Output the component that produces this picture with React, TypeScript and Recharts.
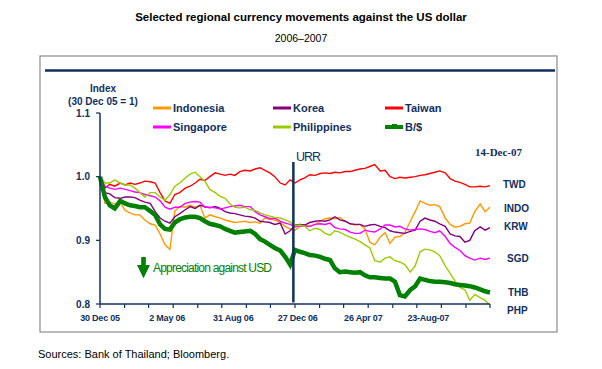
import React from "react";
import { LineChart, Line, XAxis, YAxis, Legend, ReferenceLine } from "recharts";

// days since 30 Dec 05
const days = [
  0, 9, 18, 27, 37, 46, 55, 64, 73, 82,
  92, 101, 110, 119, 128, 137, 146, 156, 165, 174,
  183, 192, 201, 211, 220, 229, 238, 247, 256, 265,
  275, 284, 293, 302, 311, 320, 330, 339, 348, 357,
  366, 375, 384, 394, 403, 412, 421, 430, 439, 449,
  458, 467, 476, 485, 494, 503, 513, 522, 531, 540,
  549, 558, 568, 577, 586, 595, 604, 613, 622, 632,
  641, 650, 659, 668, 677, 686, 696, 705, 714,
];

const taiwan = [
  1.0, 0.982, 0.988, 0.985, 0.99, 0.987, 0.99, 0.988, 0.99, 0.993,
  0.992, 0.99, 0.975, 0.962, 0.958, 0.972, 0.975, 0.982, 0.985, 0.99,
  0.996, 0.994, 1.0, 1.006, 1.004, 1.002, 1.004, 1.002, 1.008, 1.01,
  1.009, 1.012, 1.014, 1.01, 1.006, 1.0, 0.99, 0.987, 0.995, 0.99,
  0.995, 0.998, 1.003, 1.002, 1.005, 1.006, 1.005, 1.007, 1.006, 1.008,
  1.008, 1.01, 1.012, 1.013, 1.016, 1.019, 1.009, 1.01, 1.0, 0.997,
  0.999, 0.998, 0.999, 1.0, 1.002, 1.003, 1.005, 1.007, 1.009, 1.006,
  0.997, 0.993, 0.991, 0.988, 0.984, 0.984, 0.985, 0.984, 0.986,
];

const indonesia = [
  1.0, 0.958, 0.96, 0.957, 0.96, 0.947, 0.943, 0.94, 0.94, 0.932,
  0.926, 0.924, 0.91, 0.893, 0.886, 0.946, 0.953, 0.952, 0.955, 0.952,
  0.955, 0.935, 0.94, 0.937, 0.935, 0.932, 0.93, 0.928, 0.929, 0.93,
  0.928, 0.929, 0.927, 0.935, 0.933, 0.932, 0.928, 0.922, 0.918, 0.916,
  0.922, 0.924, 0.922, 0.925, 0.93, 0.934, 0.935, 0.934, 0.936, 0.93,
  0.926, 0.924, 0.925, 0.918, 0.897, 0.893, 0.905, 0.912, 0.895, 0.905,
  0.906, 0.912, 0.93, 0.945, 0.962, 0.958, 0.955, 0.956, 0.953, 0.935,
  0.925, 0.921, 0.922, 0.926, 0.927, 0.945, 0.957, 0.945, 0.952,
];

const korea = [
  1.0, 0.975, 0.973, 0.967, 0.966, 0.968, 0.968, 0.967, 0.963, 0.96,
  0.958, 0.945, 0.935, 0.93, 0.927, 0.937, 0.942, 0.948, 0.953, 0.95,
  0.955, 0.953, 0.951, 0.953, 0.95, 0.945, 0.943, 0.942, 0.94, 0.938,
  0.937, 0.935, 0.93, 0.929, 0.928, 0.925, 0.927, 0.91, 0.915, 0.924,
  0.925, 0.924, 0.928, 0.93, 0.931, 0.93, 0.932, 0.937, 0.932, 0.93,
  0.926, 0.925, 0.925, 0.922, 0.924, 0.925, 0.922, 0.92, 0.915, 0.913,
  0.912, 0.911, 0.914, 0.916, 0.93, 0.935, 0.932, 0.93, 0.926, 0.922,
  0.91, 0.907, 0.906, 0.897, 0.9, 0.915, 0.921, 0.916, 0.92,
];

const singapore = [
  1.0, 0.985, 0.982, 0.98, 0.982, 0.98, 0.978, 0.976, 0.975, 0.972,
  0.97, 0.968, 0.962, 0.952, 0.949, 0.952, 0.952, 0.958, 0.96, 0.961,
  0.96, 0.952, 0.952, 0.951, 0.949, 0.951, 0.953, 0.954, 0.955, 0.953,
  0.953, 0.945, 0.94, 0.937, 0.934, 0.935, 0.93, 0.927, 0.925, 0.921,
  0.923, 0.922, 0.922, 0.925, 0.926, 0.925, 0.927, 0.92, 0.918, 0.917,
  0.913, 0.911, 0.911, 0.916, 0.914, 0.913, 0.918, 0.924, 0.924, 0.921,
  0.922, 0.918, 0.916, 0.917, 0.918, 0.917, 0.914, 0.912, 0.915, 0.906,
  0.895, 0.889, 0.884, 0.876, 0.872, 0.869, 0.872, 0.87, 0.872,
];

const philippines = [
  1.0, 0.99, 0.99, 0.995, 0.99, 0.987, 0.987, 0.982, 0.975, 0.968,
  0.975, 0.975, 0.968, 0.963, 0.972, 0.985, 0.99, 0.998, 1.004, 1.007,
  1.0, 0.993, 0.98, 0.975, 0.969, 0.966, 0.957, 0.952, 0.951, 0.952,
  0.948, 0.947, 0.943, 0.94, 0.938, 0.936, 0.935, 0.932, 0.929, 0.923,
  0.924, 0.922, 0.915, 0.919, 0.917, 0.911, 0.908, 0.915, 0.913, 0.908,
  0.905, 0.902, 0.898, 0.893, 0.888, 0.868, 0.866, 0.872, 0.874, 0.868,
  0.866, 0.862, 0.85, 0.86, 0.882, 0.886, 0.885, 0.882, 0.876, 0.86,
  0.848, 0.836, 0.826, 0.822, 0.806, 0.815, 0.81, 0.806, 0.797,
];

const baht = [
  1.0, 0.968, 0.955, 0.95, 0.962, 0.958, 0.955, 0.954, 0.952, 0.952,
  0.946, 0.94, 0.925, 0.918, 0.917, 0.928, 0.933, 0.936, 0.937, 0.937,
  0.935, 0.93, 0.926, 0.924, 0.922, 0.918, 0.915, 0.912, 0.913, 0.914,
  0.915, 0.91, 0.902, 0.898, 0.893, 0.888, 0.884, 0.874, 0.862, 0.885,
  0.882, 0.88, 0.877, 0.876, 0.874, 0.871, 0.869, 0.856, 0.85, 0.851,
  0.85, 0.849, 0.85, 0.845, 0.842, 0.842, 0.841, 0.84, 0.84, 0.835,
  0.814, 0.812, 0.822, 0.828, 0.84, 0.838, 0.836, 0.835, 0.835, 0.834,
  0.833, 0.831, 0.83, 0.829, 0.828, 0.826, 0.823, 0.82, 0.818,
];

const labelDays = [0, 123, 244, 362, 482, 601];
const labelText = ["30 Dec 05", "2 May 06", "31 Aug 06", "27 Dec 06", "26 Apr 07", "23-Aug-07"];
const minorDays = [0, 45, 89, 134, 179, 223, 268, 312, 357, 402, 446, 491, 536, 580, 625, 670, 714];
const yTicks = [0.8, 0.9, 1.0, 1.1];
const urrDay = 354;

const legendOrder = ["Indonesia", "Korea", "Taiwan", "Singapore", "Philippines", "B/$"];

const data = days.map((d, i) => ({
  day: d,
  Indonesia: indonesia[i],
  Korea: korea[i],
  Taiwan: taiwan[i],
  Singapore: singapore[i],
  Philippines: philippines[i],
  "B/$": baht[i],
}));

const NAVY = "#10305f";
const SANS = "'Liberation Sans', Arial, sans-serif";

const XTick = (props: any) => {
  const { x, y, payload } = props;
  const v = payload.value;
  const li = labelDays.indexOf(v);
  return (
    <g>
      {minorDays.includes(v) && <line x1={x} x2={x} y1={y} y2={y + 4} stroke={NAVY} strokeWidth={1.2} />}
      {li >= 0 && (
        <text x={x} y={y + 17} textAnchor="middle" fontFamily={SANS} fontWeight="bold" fontSize={9} letterSpacing={-0.2} fill={NAVY}>
          {labelText[li]}
        </text>
      )}
    </g>
  );
};

const LegendGrid = (props: any) => {
  const payload: any[] = props.payload || [];
  const items = legendOrder.map((n) => payload.find((p) => p.value === n)).filter(Boolean);
  return (
    <div style={{ display: "grid", gridTemplateColumns: "120px 112px 112px" }}>
      {items.map((p: any) => (
        <div key={p.value} style={{ height: 18.5, display: "flex", alignItems: "center" }}>
          <svg width={20} height={8}>
            <line x1={0} x2={18} y1={4} y2={4} stroke={p.color} strokeWidth={p.value === "B/$" ? 4 : 3} />
            {p.value === "B/$" && <rect x={7} y={1} width={5} height={5} fill={p.color} />}
          </svg>
          <span style={{ fontFamily: SANS, fontWeight: "bold", fontSize: 11, color: NAVY }}>{p.value}</span>
        </div>
      ))}
    </div>
  );
};

const rightLabels = [
  { t: "TWD", x: 503, y: 184 },
  { t: "INDO", x: 504, y: 208 },
  { t: "KRW", x: 504, y: 226 },
  { t: "SGD", x: 507, y: 258 },
  { t: "THB", x: 508, y: 292 },
  { t: "PHP", x: 507, y: 310 },
];

export default function App() {
  return (
    <div style={{ position: "absolute", left: 0, top: 0, width: 602, height: 369, background: "#fff" }}>
      <LineChart width={602} height={369} data={data} margin={{ top: 113, right: 112, bottom: 35, left: 60 }}>
        <XAxis
          dataKey="day"
          type="number"
          domain={[0, 714]}
          ticks={[...new Set([...minorDays, ...labelDays])].sort((a, b) => a - b)}
          interval={0}
          tickLine={false}
          tickSize={0}
          tickMargin={0}
          tick={<XTick />}
          axisLine={{ stroke: NAVY, strokeWidth: 1.5 }}
          height={30}
        />
        <YAxis
          type="number"
          domain={[0.8, 1.1]}
          allowDataOverflow
          ticks={yTicks}
          interval={0}
          width={40}
          tickSize={4}
          tickMargin={6}
          tickFormatter={(v) => Number(v).toFixed(1)}
          tick={{ fontFamily: SANS, fontWeight: "bold", fontSize: 10, fill: NAVY }}
          tickLine={{ stroke: NAVY, strokeWidth: 1.2 }}
          axisLine={{ stroke: NAVY, strokeWidth: 1.5 }}
        />
        <Legend
          layout="horizontal"
          verticalAlign="middle"
          align="center"
          content={<LegendGrid />}
          wrapperStyle={{ left: 153, top: 99, width: 360 }}
        />
        <Line dataKey="Indonesia" stroke="#ff9900" strokeWidth={1.4} dot={false} isAnimationActive={false} />
        <Line dataKey="Korea" stroke="#800080" strokeWidth={1.4} dot={false} isAnimationActive={false} />
        <Line dataKey="Taiwan" stroke="#ff0000" strokeWidth={1.4} dot={false} isAnimationActive={false} />
        <Line dataKey="Singapore" stroke="#ff00ff" strokeWidth={1.4} dot={false} isAnimationActive={false} />
        <Line dataKey="Philippines" stroke="#99cc00" strokeWidth={1.4} dot={false} isAnimationActive={false} />
        <Line dataKey="B/$" stroke="#008000" strokeWidth={4.5} dot={false} isAnimationActive={false} />
        <ReferenceLine
          segment={[{ x: urrDay, y: 1.023 }, { x: urrDay, y: 0.8025 }]}
          stroke={NAVY}
          strokeWidth={2.5}
          ifOverflow="visible"
        />
      </LineChart>
      <svg width={602} height={369} style={{ position: "absolute", left: 0, top: 0, pointerEvents: "none" }}>
        <text x={301} y={21} textAnchor="middle" fontFamily={SANS} fontWeight="bold" fontSize={11.5} fill="#000">
          Selected regional currency movements against the US dollar
        </text>
        <text x={301} y={42} textAnchor="middle" fontFamily={SANS} fontSize={10.5} fill="#000">
          2006–2007
        </text>
        <rect x={40} y={56} width={517} height={276} fill="none" stroke="#8c8c8c" strokeWidth={1.2} />
        <line x1={45} x2={555} y1={70.5} y2={70.5} stroke="#0e2f5e" strokeWidth={2.6} />
        <text x={103} y={92} textAnchor="middle" fontFamily={SANS} fontWeight="bold" fontSize={10} fill={NAVY}>
          Index
        </text>
        <text x={103} y={105} textAnchor="middle" fontFamily={SANS} fontWeight="bold" fontSize={10} fill={NAVY}>
          (30 Dec 05 = 1)
        </text>
        <text x={475} y={156} fontFamily="'Liberation Serif', 'Times New Roman', serif" fontWeight="bold" fontSize={11} fill={NAVY}>
          14-Dec-07
        </text>
        <text x={296} y={161} fontFamily={SANS} fontSize={12.5} letterSpacing={-1} fill={NAVY}>
          URR
        </text>
        {rightLabels.map((l) => (
          <text key={l.t} x={l.x} y={l.y + 3.5} fontFamily={SANS} fontWeight="bold" fontSize={10} fill={NAVY}>
            {l.t}
          </text>
        ))}
        <polygon points="141.2,257 145.8,257 145.8,265 150,265 143.5,278.3 137,265 141.2,265" fill="#008000" />
        <text x={153} y={271.5} fontFamily={SANS} fontSize={12} letterSpacing={-0.8} fill="#008000">
          Appreciation against USD
        </text>
        <text x={38} y={358} fontFamily={SANS} fontSize={11} fill="#000">
          Sources: Bank of Thailand; Bloomberg.
        </text>
      </svg>
    </div>
  );
}
